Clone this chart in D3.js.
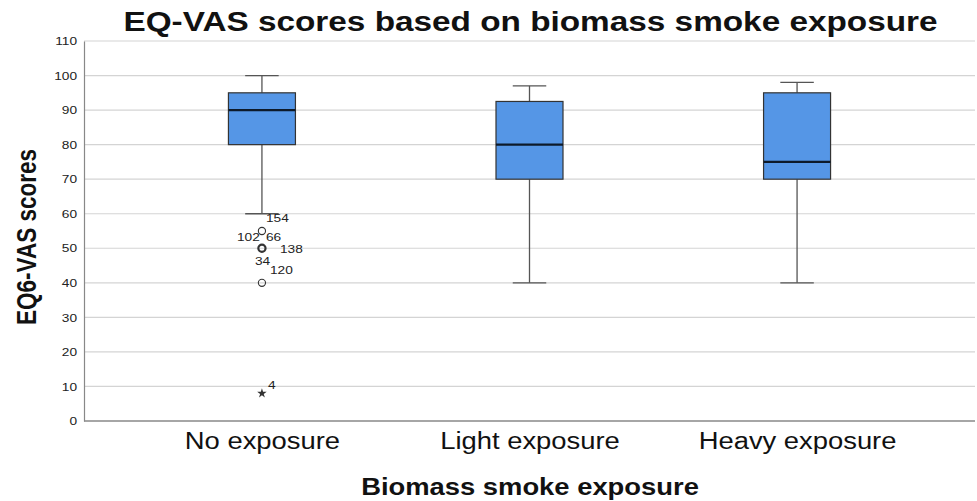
<!DOCTYPE html>
<html><head><meta charset="utf-8">
<script src="https://cdn.jsdelivr.net/npm/d3@7"></script>
<style>body{margin:0;background:#fff}svg{display:block}</style>
</head><body>
<svg id="c" width="977" height="501"></svg>
<script>
// ---- data ----
const categories = ["No exposure", "Light exposure", "Heavy exposure"];
const whiskerLow = [60, 40, 40];
const q1 = [80, 70, 70];
const median = [90, 80, 75];
const q3 = [95, 92.5, 95];
const whiskerHigh = [100, 97, 98];
// outliers: category index, value, kind, case labels
const outlierCat = [0, 0, 0, 0];
const outlierValue = [55, 50, 40, 8];
const outlierKind = ["circle", "circle", "circle", "star"];
const outlierCases = [["154"], ["102", "66", "138", "34"], ["120"], ["4"]];
const yTicks = [0, 10, 20, 30, 40, 50, 60, 70, 80, 90, 100, 110];

// label offsets (style, px relative to own point)
const labelOffsets = {
  "154": [4, -13], "102": [-25, -11], "66": [4, -11], "138": [18, 1], "34": [-7, 13], "120": [8, -13], "4": [6, -8]
};

const FONT = "Liberation Sans, Arial, sans-serif";
const SX = 1.19; // horizontal stretch of the reference's text
function stretch(sel, f) {
  sel.each(function () {
    const w = this.getComputedTextLength();
    d3.select(this).attr("textLength", w * f).attr("lengthAdjust", "spacingAndGlyphs");
  });
}

const svg = d3.select("#c");
const mLeft = 84, mRight = 975, mTop = 41, mBottom = 421;

const y = d3.scaleLinear().domain([0, 110]).range([mBottom, mTop]);
const x = d3.scalePoint().domain(categories).range([mLeft, mRight]).padding(0.665);

// gridlines
svg.append("g").selectAll("line").data(yTicks.filter(d => d > 0)).join("line")
  .attr("x1", mLeft).attr("x2", mRight)
  .attr("y1", d => y(d)).attr("y2", d => y(d))
  .attr("stroke", "#d4d4d4").attr("stroke-width", 1.2);

// y axis
const yAxis = svg.append("g").attr("transform", `translate(${mLeft},0)`)
  .call(d3.axisLeft(y).tickValues(yTicks).tickSize(0).tickPadding(7));
yAxis.select(".domain").attr("stroke", "#888").attr("stroke-width", 1.2);
yAxis.selectAll("text").attr("font-family", FONT)
  .attr("font-size", 11.5).attr("fill", "#222");
stretch(yAxis.selectAll("text"), SX);

// x axis line
svg.append("line").attr("x1", mLeft).attr("x2", mRight).attr("y1", mBottom).attr("y2", mBottom)
  .attr("stroke", "#888").attr("stroke-width", 1.5);

// category labels
const xAxis = svg.append("g").attr("transform", `translate(0,${mBottom})`)
  .call(d3.axisBottom(x).tickSize(0).tickPadding(12));
xAxis.select(".domain").remove();
xAxis.selectAll("text").attr("font-family", FONT)
  .attr("font-size", 23).attr("fill", "#111");
stretch(xAxis.selectAll("text"), SX);

const boxW = 67;
const g = svg.append("g");
categories.forEach((c, i) => {
  const cx = x(c);
  g.append("line").attr("x1", cx).attr("x2", cx).attr("y1", y(whiskerHigh[i])).attr("y2", y(q3[i]))
    .attr("stroke", "#555").attr("stroke-width", 1.3);
  g.append("line").attr("x1", cx).attr("x2", cx).attr("y1", y(q1[i])).attr("y2", y(whiskerLow[i]))
    .attr("stroke", "#555").attr("stroke-width", 1.3);
  [whiskerHigh[i], whiskerLow[i]].forEach(v => {
    g.append("line").attr("x1", cx - boxW / 4).attr("x2", cx + boxW / 4).attr("y1", y(v)).attr("y2", y(v))
      .attr("stroke", "#555").attr("stroke-width", 1.3);
  });
  g.append("rect").attr("x", cx - boxW / 2).attr("y", y(q3[i])).attr("width", boxW)
    .attr("height", y(q1[i]) - y(q3[i])).attr("fill", "#5596e6").attr("stroke", "#333").attr("stroke-width", 1.2);
  g.append("line").attr("x1", cx - boxW / 2).attr("x2", cx + boxW / 2).attr("y1", y(median[i])).attr("y2", y(median[i]))
    .attr("stroke", "#0d1a2a").attr("stroke-width", 2.4);
});

// outliers
const star = d3.symbol().type(d3.symbolStar).size(28);
outlierValue.forEach((v, k) => {
  const cx = x(categories[outlierCat[k]]), cy = y(v);
  if (outlierKind[k] === "circle") {
    g.append("circle").attr("cx", cx).attr("cy", cy).attr("r", 3.6)
      .attr("fill", "none").attr("stroke", "#333").attr("stroke-width", outlierCases[k].length > 1 ? 2.2 : 1.1);
  } else {
    g.append("path").attr("d", star).attr("transform", `translate(${cx},${cy})`).attr("fill", "#333");
  }
  outlierCases[k].forEach(lbl => {
    const o = labelOffsets[lbl];
    const t = g.append("text").attr("x", cx + o[0]).attr("y", cy + o[1]).attr("dy", "0.35em")
      .attr("font-family", FONT).attr("font-size", 11.5)
      .attr("fill", "#222").text(lbl);
    stretch(t, SX);
  });
});

// title
const title = svg.append("text").attr("x", 530.5).attr("y", 31).attr("text-anchor", "middle")
  .attr("font-family", FONT).attr("font-weight", "bold")
  .attr("font-size", 28).attr("fill", "#111").text("EQ-VAS scores based on biomass smoke exposure");
stretch(title, SX);

// axis titles
const xt = svg.append("text").attr("x", 530).attr("y", 495).attr("text-anchor", "middle")
  .attr("font-family", FONT).attr("font-weight", "bold")
  .attr("font-size", 23).attr("fill", "#111").text("Biomass smoke exposure");
stretch(xt, SX);
svg.append("text").attr("transform", `translate(36,237) scale(${SX},1) rotate(-90)`).attr("text-anchor", "middle")
  .attr("font-family", FONT).attr("font-weight", "bold")
  .attr("font-size", 22.5).attr("fill", "#111").text("EQ6-VAS scores");
</script>
</body></html>
